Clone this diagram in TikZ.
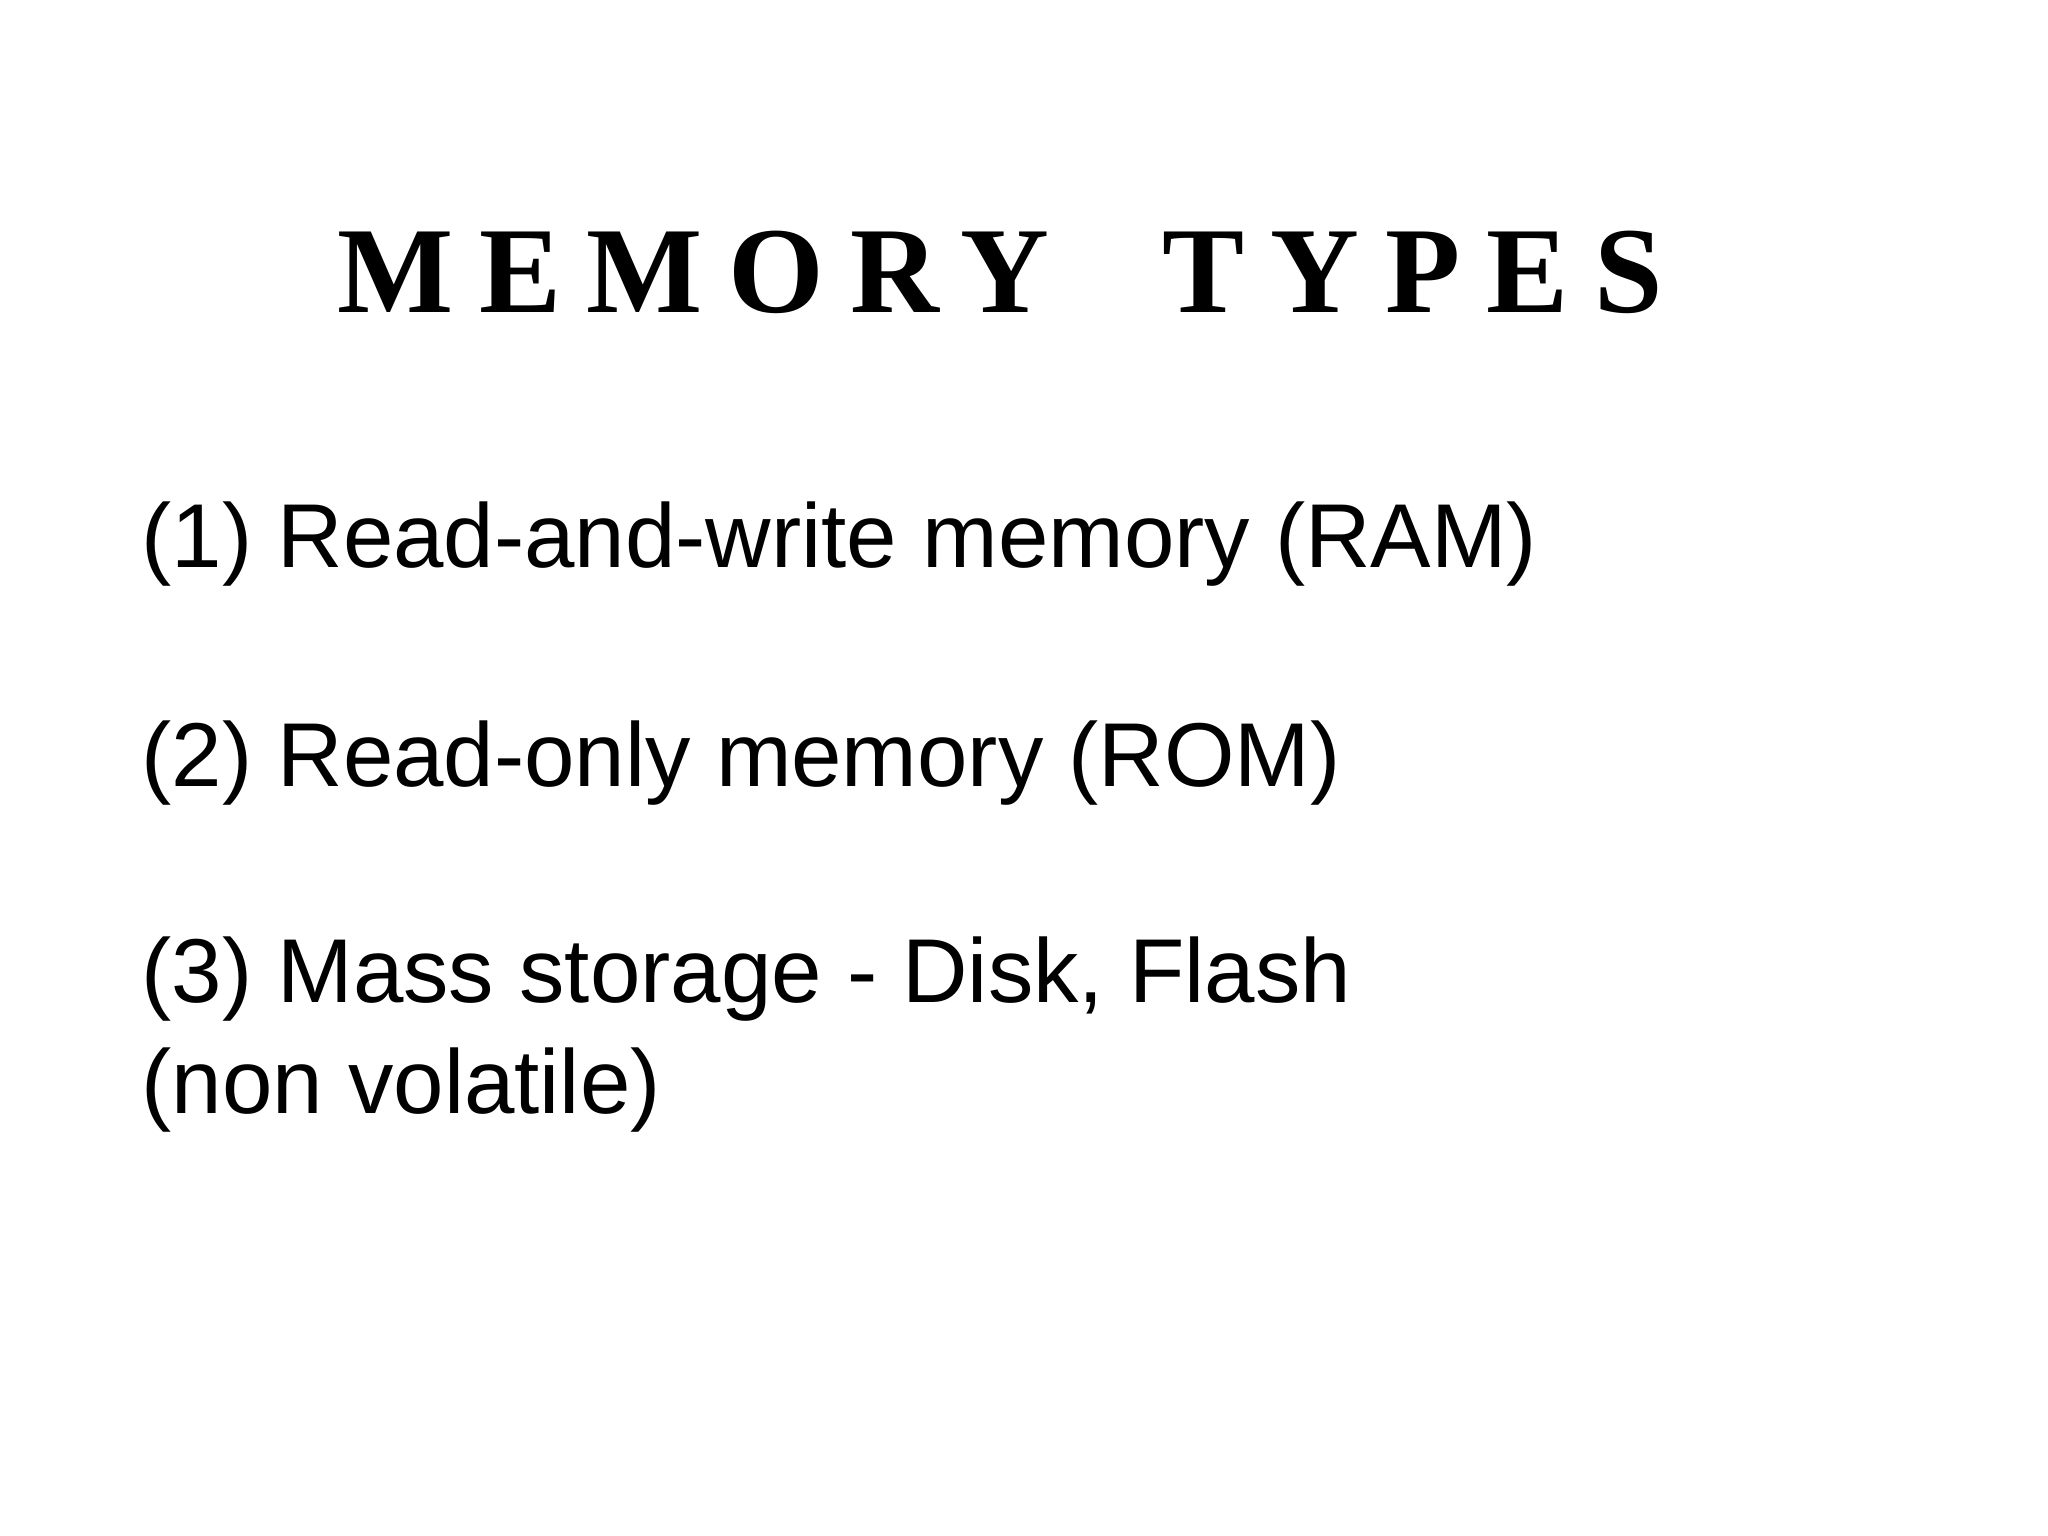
\documentclass[tikz,border=0pt]{standalone}
\usepackage{fontspec}
\setmainfont{Liberation Sans}
\newfontfamily\titlefont[LetterSpace=21]{Liberation Serif}
\begin{document}
\begin{tikzpicture}[x=1cm,y=1cm,
  body/.style={anchor=base west,inner sep=0pt,font=\fontsize{25.8}{30}\selectfont}]
\useasboundingbox (0,0) rectangle (20.48,-15.36);
\node[anchor=base,inner sep=0pt,font=\titlefont\bfseries\fontsize{35}{40}\selectfont] (title) at (10.0,-3.13) {MEMORY \ TYPES};
\node[body] (i1) at (1.41,-5.68) {(1) Read-and-write memory (RAM)};
\node[body] (i2) at (1.41,-7.86) {(2) Read-only memory (ROM)};
\node[body] (i3) at (1.41,-10.03) {(3) Mass storage - Disk, Flash};
\node[body] (i4) at (1.41,-11.13) {(non volatile)};
\end{tikzpicture}
\end{document}
